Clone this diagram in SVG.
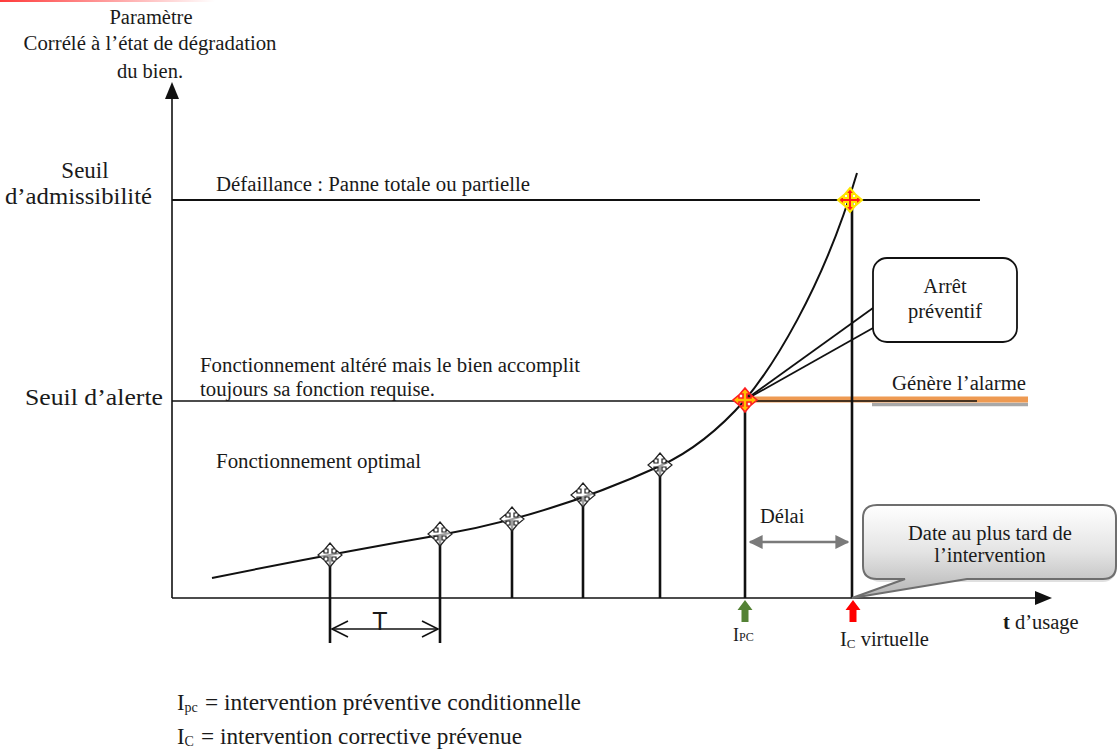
<svg xmlns="http://www.w3.org/2000/svg" width="1118" height="756" viewBox="0 0 1118 756">
  <defs>
    <linearGradient id="topRule" x1="0" y1="0" x2="1" y2="0">
      <stop offset="0" stop-color="#ff3b3b"/>
      <stop offset="1" stop-color="#ff3b3b" stop-opacity="0"/>
    </linearGradient>
    <linearGradient id="calloutFill" x1="0" y1="0" x2="0" y2="1">
      <stop offset="0" stop-color="#ffffff"/>
      <stop offset="0.5" stop-color="#e4e4e4"/>
      <stop offset="1" stop-color="#b4b4b4"/>
    </linearGradient>
    <!-- four-way "move" cross used as measurement marker -->
    <path id="cross" d="M0,-12 L5,-6 L2,-6 L2,-2 L6,-2 L6,-5 L12,0 L6,5 L6,2 L2,2 L2,6 L5,6 L0,12 L-5,6 L-2,6 L-2,2 L-6,2 L-6,5 L-12,0 L-6,-5 L-6,-2 L-2,-2 L-2,-6 L-5,-6 Z"/>
    <marker id="greyHead" viewBox="0 0 10 10" refX="9" refY="5" markerWidth="5.6" markerHeight="5.6" orient="auto-start-reverse" markerUnits="strokeWidth">
      <path d="M0,0 L10,5 L0,10 Z" fill="#7a7a7a"/>
    </marker>
  </defs>
  <style>
    text { font-family: "Liberation Serif", "Times New Roman", serif; fill: #1a1a1a; }
    .t20 { font-size: 20.5px; }
    .t23 { font-size: 23px; }
    .leg { font-size: 22.8px; }
    .ln { stroke: #111; fill: none; }
    .stem { stroke: #111; stroke-width: 2.6; }
    .mk { fill: #fff; fill-opacity: 0.6; stroke: #222; stroke-width: 1.2; }
  </style>

  <rect x="0" y="0" width="215" height="2" fill="url(#topRule)"/>

  <!-- axes -->
  <g id="axes">
    <line class="ln" x1="172" y1="598" x2="172" y2="95" stroke-width="1.6"/>
    <polygon points="172,82 165,99 179,99" fill="#111"/>
    <line class="ln" x1="172" y1="598" x2="1037" y2="598" stroke-width="1.6"/>
    <polygon points="1052,598 1035,591 1035,605" fill="#111"/>
  </g>

  <g id="axis-labels">
    <text class="t20" x="151" y="24" text-anchor="middle">Paramètre</text>
    <text class="t20" x="150" y="50" text-anchor="middle" textLength="253" lengthAdjust="spacingAndGlyphs">Corrélé à l’état de dégradation</text>
    <text class="t20" x="150" y="78" text-anchor="middle">du bien.</text>
    <text class="t20" x="1003" y="629"><tspan font-weight="bold">t</tspan> d’usage</text>
  </g>

  <!-- threshold lines -->
  <g id="seuil-admissibilite">
    <text class="t23" x="85" y="178" text-anchor="middle">Seuil</text>
    <text class="t23" x="5" y="204" textLength="147" lengthAdjust="spacingAndGlyphs">d’admissibilité</text>
    <line class="ln" x1="172" y1="200" x2="980" y2="200" stroke-width="1.8"/>
    <text class="t20" x="216" y="191" textLength="314" lengthAdjust="spacingAndGlyphs">Défaillance : Panne totale ou partielle</text>
  </g>

  <g id="seuil-alerte">
    <text class="t23" x="25" y="405" textLength="138" lengthAdjust="spacingAndGlyphs">Seuil d’alerte</text>
    <line x1="872" y1="404.5" x2="1028" y2="404.5" stroke="#a8a8a8" stroke-width="3.5"/>
    <line x1="745" y1="399.5" x2="1028" y2="399.5" stroke="#ee9a52" stroke-width="6"/>
    <line class="ln" x1="172" y1="401" x2="977" y2="401" stroke-width="1.6"/>
    <text class="t20" x="200" y="372" textLength="380" lengthAdjust="spacingAndGlyphs">Fonctionnement altéré mais le bien accomplit</text>
    <text class="t20" x="200" y="396" textLength="235" lengthAdjust="spacingAndGlyphs">toujours sa fonction requise.</text>
    <text class="t20" x="892" y="390" textLength="134" lengthAdjust="spacingAndGlyphs">Génère l’alarme</text>
  </g>

  <text class="t20" x="216" y="468" textLength="205" lengthAdjust="spacingAndGlyphs">Fonctionnement optimal</text>

  <!-- inspection stems, degradation curve and markers -->
  <g id="inspections">
    <line class="stem" x1="330" y1="556" x2="330" y2="643"/>
    <line class="stem" x1="440" y1="535" x2="440" y2="643"/>
    <line class="stem" x1="512" y1="520" x2="512" y2="598"/>
    <line class="stem" x1="583" y1="497" x2="583" y2="598"/>
    <line class="stem" x1="660" y1="466" x2="660" y2="598"/>
    <line class="stem" x1="745" y1="400" x2="745" y2="598"/>
    <line class="stem" x1="852" y1="200" x2="852" y2="598"/>
  </g>

  <g id="connectors">
    <path class="ln" stroke-width="2" d="M212,578 Q330,554 440,535 T660,466 Q705,445.5 745,400 C770,370 822,292 857,173"/>
    <line class="ln" x1="745" y1="400" x2="873" y2="308" stroke-width="1.8"/>
    <line class="ln" x1="745" y1="400" x2="873" y2="328" stroke-width="1.8"/>
    <line x1="750" y1="542" x2="848" y2="542" stroke="#7a7a7a" stroke-width="2.5" marker-start="url(#greyHead)" marker-end="url(#greyHead)"/>
  </g>

  <g id="markers">
    <use href="#cross" class="mk" transform="translate(330,555)"/>
    <use href="#cross" class="mk" transform="translate(440,534)"/>
    <use href="#cross" class="mk" transform="translate(512,519)"/>
    <use href="#cross" class="mk" transform="translate(583,495)"/>
    <use href="#cross" class="mk" transform="translate(660,465)"/>
    <use href="#cross" transform="translate(745,400)" fill="#ffc000" stroke="#ff2020" stroke-width="1.6"/>
    <use href="#cross" transform="translate(850,200)" fill="#ff1a1a" stroke="#ffe600" stroke-width="2"/>
  </g>

  <!-- period T -->
  <g id="periode">
    <line class="ln" x1="332" y1="629" x2="438" y2="629" stroke-width="1.6"/>
    <polyline class="ln" points="348,621 332,629 348,637" stroke-width="1.6"/>
    <polyline class="ln" points="422,621 438,629 422,637" stroke-width="1.6"/>
    <text x="380" y="630" text-anchor="middle" style="font-family:'Liberation Sans',Arial,sans-serif;font-size:25px">T</text>
  </g>

  <g id="delai">
    <text class="t20" x="760" y="523">Délai</text>
  </g>

  <!-- callouts -->
  <g id="arret-preventif">
    <rect x="873" y="258" width="144" height="84" rx="14" fill="#fff" stroke="#111" stroke-width="1.8"/>
    <text class="t20" x="945" y="293" text-anchor="middle">Arrêt</text>
    <text class="t20" x="945" y="318" text-anchor="middle">préventif</text>
  </g>

  <g id="date-intervention">
    <rect x="866" y="508" width="251" height="74" rx="14" fill="#000" fill-opacity="0.12"/>
    <path d="M877,505 H1103 Q1116,505 1116,518 V566 Q1116,579 1103,579 H967 L852,598 L905,579 H877 Q863,579 863,566 V518 Q863,505 877,505 Z" fill="url(#calloutFill)" stroke="#6e6e6e" stroke-width="2"/>
    <text class="t20" x="990" y="540" text-anchor="middle">Date au plus tard de</text>
    <text class="t20" x="990" y="562" text-anchor="middle">l’intervention</text>
  </g>

  <!-- intervention markers on time axis -->
  <g id="ipc">
    <polygon points="745,600 752.5,610 748.5,610 748.5,622 741.5,622 741.5,610 737.5,610" fill="#548235"/>
    <text x="733" y="641" style="font-size:18px">I<tspan font-size="12">PC</tspan></text>
  </g>
  <g id="ic">
    <polygon points="853,600 860.5,610 856.5,610 856.5,622 849.5,622 849.5,610 845.5,610" fill="#ff0000"/>
    <text class="t20" x="840" y="646">I<tspan font-size="13" dy="2">C</tspan><tspan dy="-2"> virtuelle</tspan></text>
  </g>

  <!-- legend -->
  <g id="legende">
    <text class="leg" x="177" y="710">I<tspan font-size="14" dy="2">pc</tspan></text>
    <text class="leg" x="205" y="710" textLength="376" lengthAdjust="spacingAndGlyphs">= intervention préventive conditionnelle</text>
    <text class="leg" x="177" y="744">I<tspan font-size="14" dy="2">C</tspan></text>
    <text class="leg" x="201" y="744" textLength="321" lengthAdjust="spacingAndGlyphs">= intervention corrective prévenue</text>
  </g>
</svg>
